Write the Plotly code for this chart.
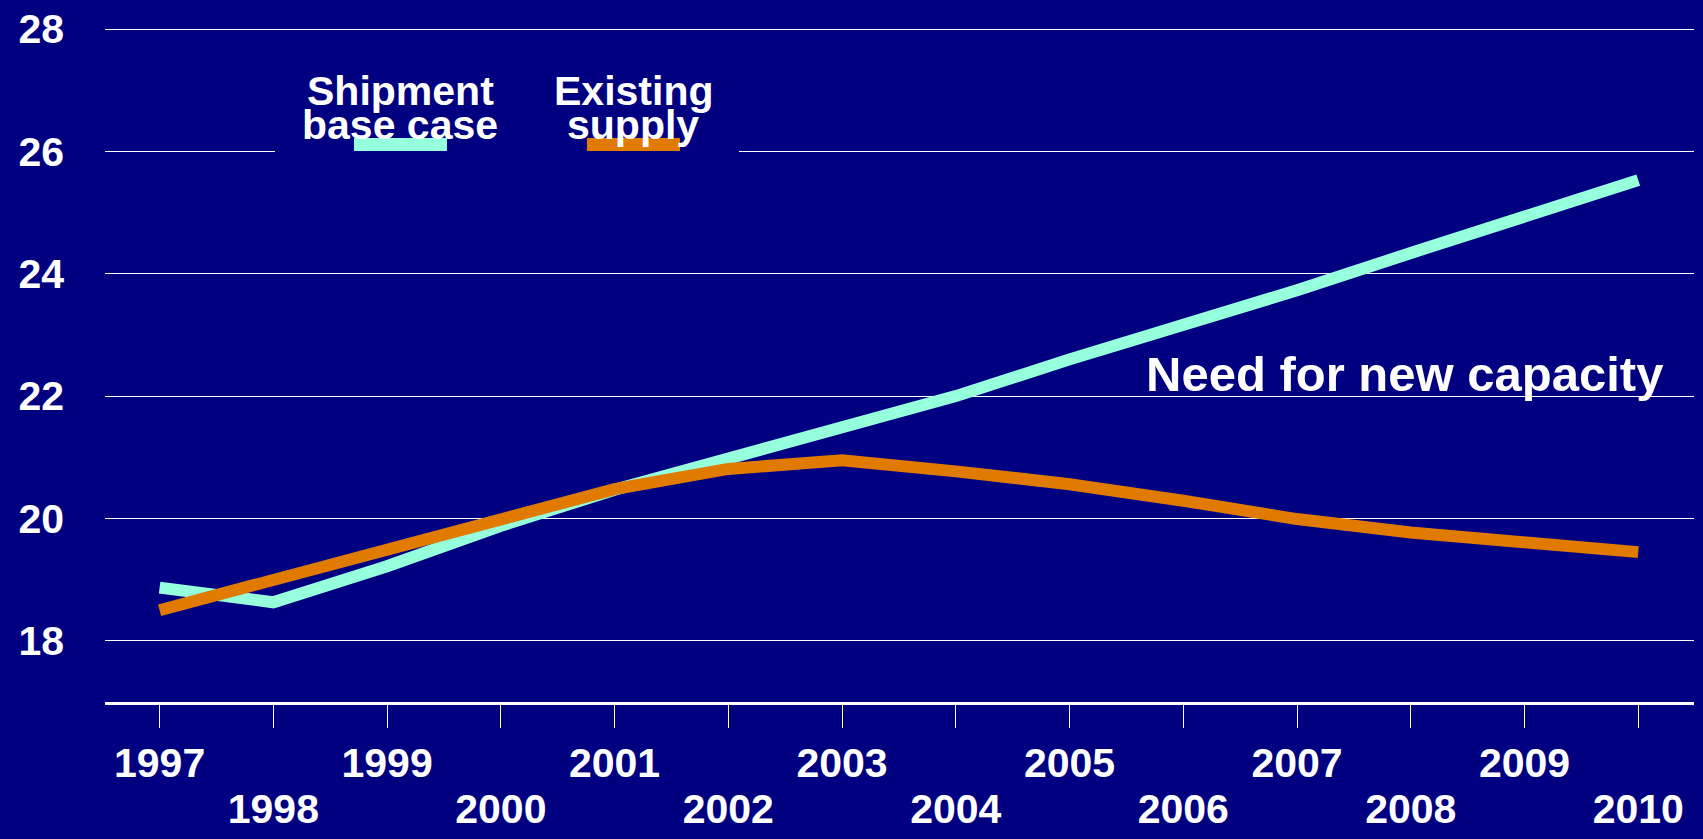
import plotly.graph_objects as go

# Years on the x axis
years = list(range(1997, 2011))

# Shipments, base case
shipment_base_case = [18.87, 18.63, 19.22, 19.88, 20.47, 20.98, 21.5, 22.0,
                      22.6, 23.15, 23.73, 24.34, 24.95, 25.53]

# Existing supply
existing_supply = [18.5, 19.0, 19.5, 20.02, 20.48, 20.81, 20.95, 20.77,
                   20.56, 20.29, 19.99, 19.77, 19.61, 19.45]

y_ticks = [18, 20, 22, 24, 26, 28]

NAVY = "#000080"
CYAN = "#96FFDC"
ORANGE = "#E07B00"
FONT = "Liberation Sans, Arial, sans-serif"
TICK_FONT = dict(family=FONT, size=41, color="white", weight="bold")

# Odd years label the upper row, even years the lower row
upper_text = [str(y) if y % 2 == 1 else "" for y in years]
even_years = [y for y in years if y % 2 == 0]
lower_text = [str(y) for y in even_years]

fig = go.Figure()
fig.add_trace(go.Scatter(x=years, y=shipment_base_case, mode="lines",
                         name="Shipment base case",
                         line=dict(color=CYAN, width=12)))
fig.add_trace(go.Scatter(x=years, y=existing_supply, mode="lines",
                         name="Existing supply",
                         line=dict(color=ORANGE, width=12)))

x_range = [1996.52, 2010.49]

fig.update_layout(
    width=1703, height=839,
    margin=dict(l=105, r=9, t=26, b=137),
    paper_bgcolor=NAVY, plot_bgcolor=NAVY,
    showlegend=False,
    font=dict(family=FONT, color="white", size=41, weight="bold"),
    xaxis=dict(
        range=x_range,
        tickvals=years, ticktext=upper_text,
        showgrid=False, zeroline=False,
        showline=True, linecolor="white", linewidth=3,
        ticks="outside", ticklen=23, tickwidth=1, tickcolor="white",
        ticklabelstandoff=0, automargin=False,
        tickfont=TICK_FONT,
    ),
    xaxis2=dict(
        range=x_range, overlaying="x", anchor="y", side="bottom",
        tickvals=even_years, ticktext=lower_text,
        showgrid=False, zeroline=False, showline=False, ticks="",
        ticklabelstandoff=79, automargin=False,
        tickfont=TICK_FONT,
    ),
    yaxis=dict(
        range=[17, 28.05],
        tickvals=y_ticks,
        showgrid=True, gridcolor="white", gridwidth=1,
        zeroline=False, showline=False, ticks="",
        ticklabelstandoff=40, automargin=False,
        tickfont=TICK_FONT,
    ),
)

# Invisible trace so the lower label row is rendered
fig.add_trace(go.Scatter(x=even_years, y=[None] * len(even_years),
                         xaxis="x2", yaxis="y", mode="lines",
                         hoverinfo="skip", showlegend=False))

# Legend backdrop and swatches
fig.add_shape(type="rect", xref="paper", yref="paper",
              x0=0.107, x1=0.399, y0=0.77, y1=0.87,
              fillcolor=NAVY, line=dict(width=0), layer="above")
fig.add_shape(type="line", xref="paper", yref="paper",
              x0=0.1567, x1=0.2152, y0=0.8247, y1=0.8247,
              line=dict(color=CYAN, width=13), layer="above")
fig.add_shape(type="line", xref="paper", yref="paper",
              x0=0.3033, x1=0.3619, y0=0.8247, y1=0.8247,
              line=dict(color=ORANGE, width=13), layer="above")

legend_lines = [
    ("Shipment", 0.1857, 0.9038),
    ("base case", 0.1857, 0.8536),
    ("Existing", 0.3323, 0.9038),
    ("supply", 0.3323, 0.8536),
]
for text, x, y in legend_lines:
    fig.add_annotation(text=text, xref="paper", yref="paper", x=x, y=y,
                       xanchor="center", yanchor="middle", showarrow=False,
                       font=TICK_FONT)

fig.add_annotation(text="Need for new capacity", xref="paper", yref="paper",
                   x=0.818, y=0.485, xanchor="center", yanchor="middle",
                   showarrow=False,
                   font=dict(family=FONT, size=49, color="white",
                             weight="bold"))

fig.write_html("out.html")
